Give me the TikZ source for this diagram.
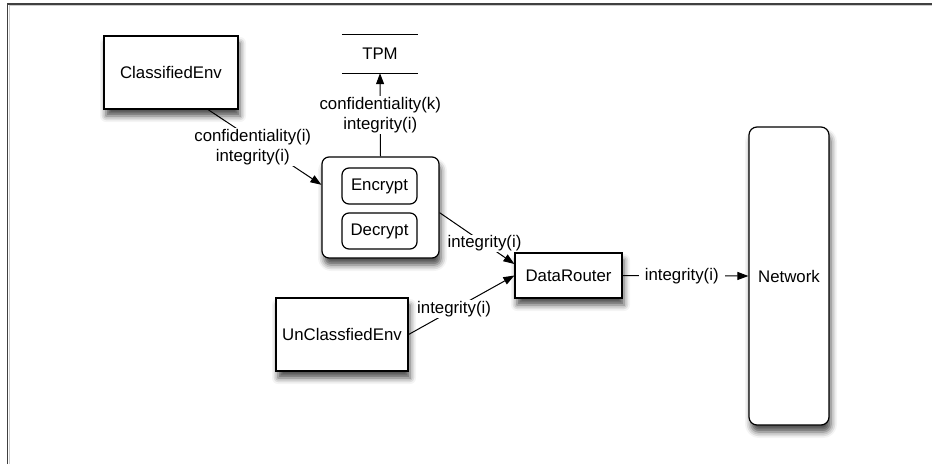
\documentclass[tikz,border=0pt]{standalone}
\usepackage{fontspec}
\setmainfont{Liberation Sans}
\usetikzlibrary{arrows.meta,shadows.blur}
\begin{document}
\begin{tikzpicture}[x=1pt,y=-1pt,
			font=\fontsize{16.8}{20}\selectfont,
			>={Triangle[length=11pt,width=8pt]},
			shade/.style={blur shadow={shadow xshift=2pt,shadow yshift=-7pt,
				shadow blur radius=6pt,shadow opacity=70}},
			box/.style={
			shape=rectangle,
			draw, line width=1.2pt,
			fill=white,
			inner sep=0pt,
			align=center},
			roundbox/.style={box, rounded corners=7pt},
			lbl/.style={fill=white, inner sep=1pt, align=center}]
			\useasboundingbox (0,0) rectangle (932,464);
			% page frame
			\draw [line width=1.2pt, black!75] (7.5,464) -- (7.5,4) -- (932,4);
			\draw [line width=1pt, black!20] (9,464) -- (9,5.5) -- (932,5.5);
			\node [box, shade, minimum width=134, minimum height=73] (cls) at (171,72.5) {ClassifiedEnv};
			\node [minimum width=76, minimum height=38, inner sep=0pt] (tpm) at (380,54) {TPM};
			\draw [line width=1pt] (tpm.north west) -- (tpm.north east);
			\draw [line width=1pt] (tpm.south west) -- (tpm.south east);
			\node [roundbox, shade, minimum width=117, minimum height=101] (crypt) at (380.5,207.5) {};
			\node [roundbox, minimum width=75, minimum height=36] (enc) at (379.5,186) {Encrypt};
			\node [roundbox, minimum width=75, minimum height=36] (dec) at (379.5,231) {Decrypt};
			\node [box, shade, minimum width=107, minimum height=45] (router) at (568.5,275.5) {DataRouter};
			\node [box, shade, minimum width=132, minimum height=73] (uncls) at (342,334.5) {UnClassfiedEnv};
			\node [roundbox, shade, rounded corners=8pt, minimum width=80, minimum height=298] (net) at (789,276) {Network};
			\draw [->, line width=1pt] (cls.-45) -- node[lbl, pos=0.5, xshift=-12] {confidentiality(i)\\integrity(i)} (crypt.159);
			\draw [->, line width=1pt] (crypt.north) -- node[lbl, pos=0.5] {confidentiality(k)\\integrity(i)} (tpm.south);
			\draw [->, line width=1pt] (crypt.-5) -- node[lbl, pos=0.6] {integrity(i)} (router.168);
			\draw [->, line width=1pt] (uncls.east) -- node[lbl, pos=0.43] {integrity(i)} (router.west);
			\draw [->, line width=1pt] (router.east) -- node[lbl, pos=0.47, inner xsep=6pt] {integrity(i)} (net.west);
		\end{tikzpicture}
\end{document}
